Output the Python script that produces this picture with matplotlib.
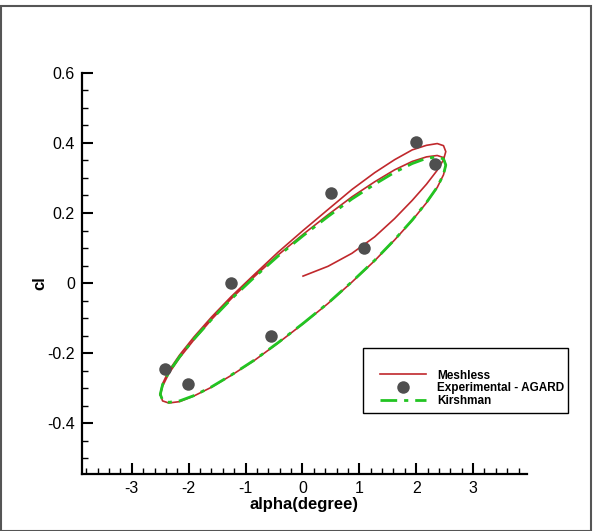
import matplotlib.pyplot as plt
from matplotlib.lines import Line2D
from matplotlib.patches import Rectangle
from matplotlib.ticker import MultipleLocator

plt.rcParams['font.family'] = ['Liberation Sans', 'DejaVu Sans']

# experimental points (AGARD)
exp_alpha = [2.00, 2.33, 0.51, 1.08, -1.25, -0.56, -2.42, -2.01]
exp_cl = [0.402, 0.340, 0.256, 0.099, -0.001, -0.151, -0.244, -0.289]

# Kirshman, one closed cycle
kir_alpha = [0.01, 0.45, 0.87, 1.27, 1.62, 1.93, 2.18, 2.37, 2.48, 2.52,
             2.48, 2.37, 2.18, 1.93, 1.62, 1.27, 0.87, 0.45, 0.01,
             -0.43, -0.85, -1.25, -1.60, -1.91, -2.16, -2.35, -2.46, -2.50,
             -2.46, -2.35, -2.16, -1.91, -1.60, -1.25, -0.85, -0.43, 0.01]
kir_cl = [-0.115, -0.057, 0.004, 0.065, 0.124, 0.180, 0.230, 0.274, 0.310, 0.337,
          0.354, 0.360, 0.356, 0.341, 0.316, 0.282, 0.240, 0.190, 0.135,
          0.077, 0.016, -0.045, -0.104, -0.160, -0.210, -0.254, -0.290, -0.317,
          -0.334, -0.340, -0.336, -0.321, -0.296, -0.262, -0.220, -0.170, -0.115]

# Meshless: start transient, first down stroke, up stroke, second down stroke
ml_start_alpha = [0.01, 0.45, 0.87, 1.27, 1.62, 1.93, 2.18, 2.37, 2.48, 2.52]
ml_start_cl = [0.020, 0.048, 0.085, 0.132, 0.184, 0.236, 0.282, 0.322, 0.352, 0.375]

ml_down1_alpha = [2.48, 2.37, 2.18, 1.93, 1.62, 1.27, 0.87, 0.45, 0.01,
                  -0.43, -0.85, -1.25, -1.60, -1.91, -2.16, -2.35, -2.46, -2.50]
ml_down1_cl = [0.392, 0.398, 0.393, 0.380, 0.352, 0.315, 0.267, 0.210, 0.150,
               0.088, 0.024, -0.038, -0.097, -0.154, -0.205, -0.250, -0.287, -0.316]

ml_up_alpha = [-2.46, -2.35, -2.16, -1.91, -1.60, -1.25, -0.85, -0.43, 0.01,
               0.45, 0.87, 1.27, 1.62, 1.93, 2.18, 2.37, 2.48, 2.52]
ml_up_cl = [-0.336, -0.342, -0.338, -0.322, -0.297, -0.263, -0.221, -0.171, -0.116,
            -0.058, 0.003, 0.064, 0.123, 0.179, 0.229, 0.273, 0.309, 0.336]

ml_down2_alpha = [2.48, 2.37, 2.18, 1.93, 1.62, 1.27, 0.87, 0.45, 0.01,
                  -0.43, -0.85, -1.25, -1.60, -1.91, -2.16, -2.35, -2.46, -2.50]
ml_down2_cl = [0.358, 0.364, 0.360, 0.347, 0.323, 0.289, 0.246, 0.195, 0.139,
               0.080, 0.018, -0.044, -0.104, -0.162, -0.213, -0.258, -0.294, -0.320]

ml_alpha = ml_start_alpha + ml_down1_alpha + ml_up_alpha + ml_down2_alpha
ml_cl = ml_start_cl + ml_down1_cl + ml_up_cl + ml_down2_cl

red = '#c0282c'
green = '#22c422'
grey = '#4f4f4f'

fig = plt.figure(figsize=(5.97, 5.31), dpi=100)
ax = fig.add_axes([0.137, 0.107, 0.745, 0.756])

ax.plot(ml_alpha, ml_cl, color=red, lw=1.2, zorder=2)
ax.plot(kir_alpha, kir_cl, color=green, lw=2.0, dashes=(6, 2.5, 1.5, 2.5), zorder=3)
ax.plot(exp_alpha, exp_cl, 'o', color=grey, ms=9, mec='none', zorder=4)

ax.set_xlim(-3.88, 3.94)
ax.set_ylim(-0.545, 0.6)
ax.xaxis.set_minor_locator(MultipleLocator(0.2))
ax.yaxis.set_minor_locator(MultipleLocator(0.05))
ax.set_yticks([-0.4, -0.2, 0, 0.2, 0.4, 0.6])
ax.set_yticklabels(['-0.4', '-0.2', '0', '0.2', '0.4', '0.6'])
ax.set_xticks([-3, -2, -1, 0, 1, 2, 3])
ax.set_xticklabels(['-3', '-2', '-1', '0', '1', '2', '3'])

for s in ['top', 'right']:
    ax.spines[s].set_visible(False)
for s in ['left', 'bottom']:
    ax.spines[s].set_linewidth(1.6)
ax.tick_params(which='major', direction='in', length=8, width=1.5, labelsize=11.5, pad=5)
ax.tick_params(which='minor', direction='in', length=4, width=1.0)

fig.text(0.067, 0.467, 'cl', rotation=90, ha='center', va='center',
         fontsize=12, fontweight='bold')
fig.text(0.51, 0.049, 'alpha(degree)', ha='center', va='center',
         fontsize=12, fontweight='bold')

# legend box
fig.add_artist(Rectangle((0.608, 0.222), 0.343, 0.122, transform=fig.transFigure,
                         fill=False, edgecolor='black', lw=1.0))
handles = [Line2D([], [], color=red, lw=1.2),
           Line2D([], [], color=grey, marker='o', ms=9, mec='none', ls='none'),
           Line2D([], [], color=green, lw=2.0, dashes=(6, 2.5, 1.5, 2.5))]
fig.legend(handles, ['Meshless', 'Experimental - AGARD', 'Kirshman'],
           loc='upper left', bbox_to_anchor=(0.636, 0.304), frameon=False,
           prop={'weight': 'bold', 'size': 8.5}, handlelength=3.9,
           handletextpad=0.95, labelspacing=0.05, borderpad=0, borderaxespad=0)

# outer frame
fig.add_artist(Rectangle((0.002, 0.0), 0.988, 0.988, transform=fig.transFigure,
                         fill=False, edgecolor='#555555', lw=1.5))

fig.savefig('out.png', dpi=100)
